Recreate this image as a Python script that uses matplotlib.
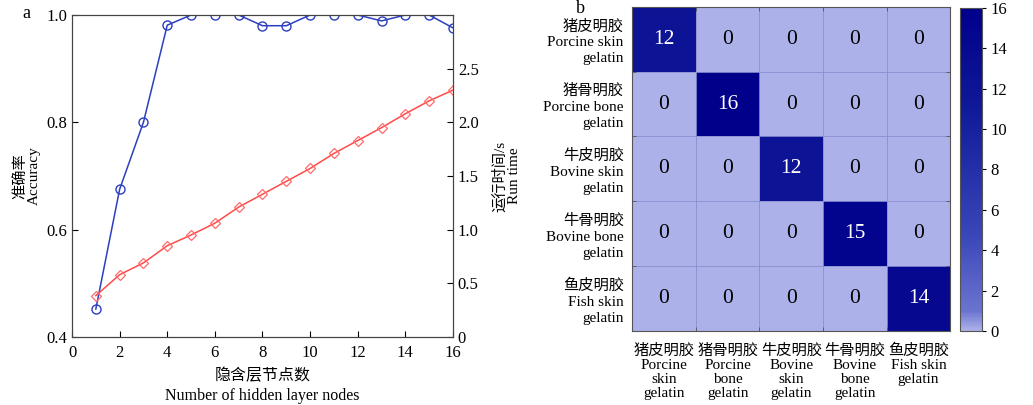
import matplotlib
matplotlib.use('Agg')
import matplotlib.pyplot as plt
import numpy as np
from matplotlib.colors import LinearSegmentedColormap

plt.rcParams['font.family'] = ['Liberation Serif', 'Noto Sans CJK SC']
plt.rcParams['font.size'] = 11

# panel a data
nodes = [1, 2, 3, 4, 5, 6, 7, 8, 9, 10, 11, 12, 13, 14, 15, 16]
accuracy = [0.452, 0.675, 0.80, 0.981, 1.0, 1.0, 1.0, 0.98, 0.98, 1.0,
            1.0, 1.0, 0.989, 1.0, 1.0, 0.976]
run_time = [0.385, 0.58, 0.69, 0.85, 0.95, 1.06, 1.21, 1.33, 1.45, 1.57,
            1.71, 1.83, 1.95, 2.08, 2.20, 2.30]

# panel b data
row_labels = ['猪皮明胶\nPorcine skin\ngelatin', '猪骨明胶\nPorcine bone\ngelatin',
              '牛皮明胶\nBovine skin\ngelatin', '牛骨明胶\nBovine bone\ngelatin',
              '鱼皮明胶\nFish skin\ngelatin']
col_labels = ['猪皮明胶\nPorcine\nskin\ngelatin', '猪骨明胶\nPorcine\nbone\ngelatin',
              '牛皮明胶\nBovine\nskin\ngelatin', '牛骨明胶\nBovine\nbone\ngelatin',
              '鱼皮明胶\nFish skin\ngelatin']
conf = np.array([[12, 0, 0, 0, 0],
                 [0, 16, 0, 0, 0],
                 [0, 0, 12, 0, 0],
                 [0, 0, 0, 15, 0],
                 [0, 0, 0, 0, 14]])

fig = plt.figure(figsize=(10.33, 4.05), dpi=100)

# ---- panel a ----
ax = fig.add_axes([0.0697, 0.168, 0.3688, 0.795])
ax.plot(nodes, accuracy, '-o', color='#2b3fbf', lw=1.1, ms=6.5,
        mfc='none', mec='#2b3fbf', mew=1.0)
ax.set_xlim(0, 16)
ax.set_ylim(0.4, 1.0)
ax.set_xticks(range(0, 17, 2))
ax.set_yticks([0.4, 0.6, 0.8, 1.0])
ax.set_yticklabels(['0.4', '0.6', '0.8', '1.0'])
ax.tick_params(direction='in', length=4, labelsize=12, right=False, top=False)
ax.tick_params(axis='x', pad=6)
ax.set_ylabel('准确率\nAccuracy', fontsize=11, labelpad=4, linespacing=1.1)
ax.set_xlabel('隐含层节点数\nNumber of hidden layer nodes', fontsize=11.5,
              labelpad=5, linespacing=1.3)
for s in ax.spines.values():
    s.set_color('#444444')

ax2 = ax.twinx()
ax2.plot(nodes, run_time, '-D', color='#ff4a4a', lw=1.1, ms=5.5,
         mfc='none', mec='#ff6b6b', mew=0.9)
ax2.set_ylim(0, 3.0)
ax2.set_yticks([0, 0.5, 1.0, 1.5, 2.0, 2.5])
ax2.set_yticklabels(['0', '0.5', '1.0', '1.5', '2.0', '2.5'])
ax2.tick_params(direction='in', length=4, labelsize=12)
ax2.set_ylabel('运行时间/s\nRun time', fontsize=11, labelpad=10, linespacing=1.1)
for s in ax2.spines.values():
    s.set_color('#444444')

fig.text(0.022, 0.955, 'a', fontsize=13)

# ---- panel b ----
cmap = LinearSegmentedColormap.from_list(
    'conf', [(0.0, '#adb1e9'), (0.06, '#6a74cf'), (0.3, '#3a45b8'),
             (0.7, '#0f1898'), (1.0, '#00008b')])
axh = fig.add_axes([0.612, 0.183, 0.308, 0.8])
im = axh.imshow(conf, cmap=cmap, vmin=0, vmax=16, aspect='auto')
axh.set_xticks(range(5))
axh.set_yticks(range(5))
axh.set_xticklabels(col_labels, fontsize=11, linespacing=1.12)
axh.set_yticklabels(row_labels, fontsize=11, linespacing=1.3)
axh.tick_params(axis='x', length=0, pad=9)
axh.tick_params(axis='y', length=0, pad=6)
axh.set_xticks(np.arange(-0.5, 5, 1), minor=True)
axh.set_yticks(np.arange(-0.5, 5, 1), minor=True)
axh.tick_params(which='minor', direction='in', length=3, color='#555555',
                top=True, right=True)
axh.grid(which='minor', color='#8a90d0', lw=0.6)
for s in axh.spines.values():
    s.set_color('#555555')
for i in range(5):
    for j in range(5):
        v = conf[i, j]
        axh.text(j, i, str(v), ha='center', va='center', fontsize=15.5,
                 color='white' if v > 8 else 'black')

cax = fig.add_axes([0.929, 0.183, 0.0213, 0.7975])
cb = fig.colorbar(im, cax=cax, ticks=range(0, 17, 2))
cb.ax.tick_params(labelsize=12, length=3)
cb.outline.set_edgecolor('#555555')

fig.text(0.558, 1.0, 'b', fontsize=13, va='top')

fig.savefig('out.png', dpi=100)
